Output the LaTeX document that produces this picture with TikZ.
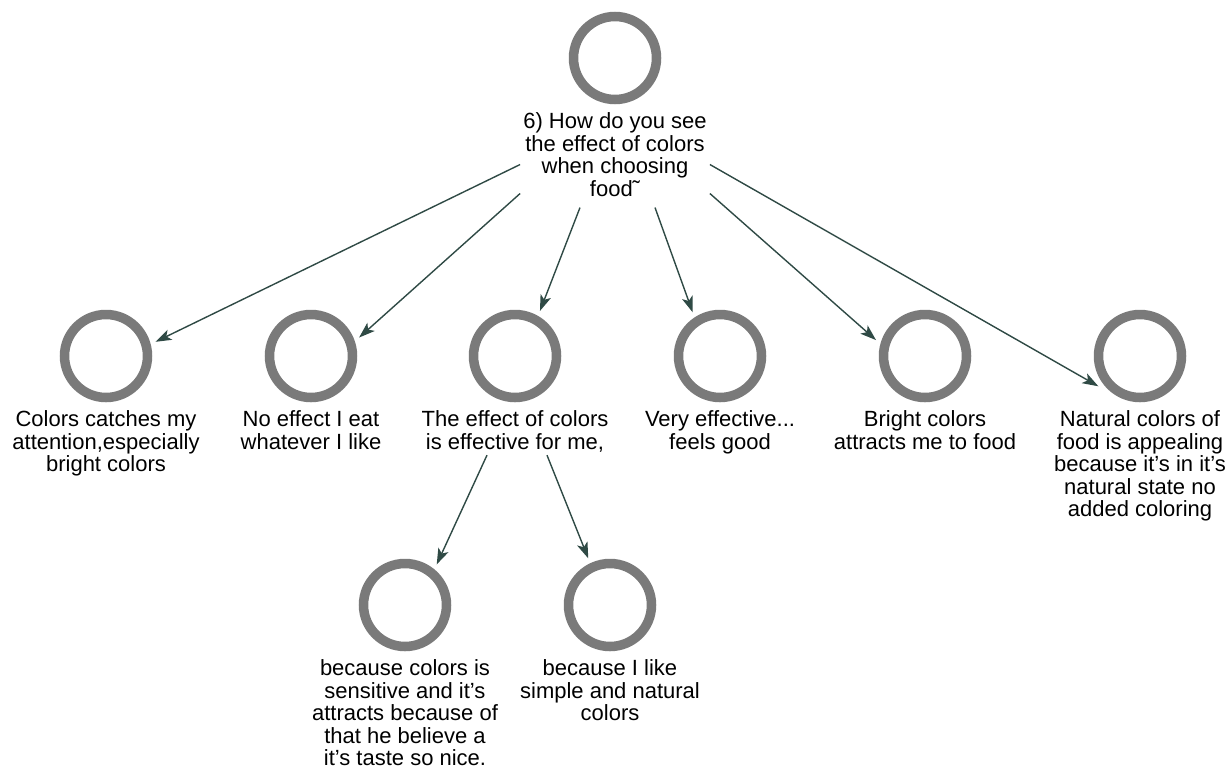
\documentclass[tikz,border=0pt]{standalone}
\usepackage{fontspec}
\setmainfont{Liberation Sans}
\usetikzlibrary{positioning,arrows.meta}
\definecolor{ringgray}{HTML}{7A7A7A}
\definecolor{linkgreen}{HTML}{2F4A45}
\begin{document}
\begin{tikzpicture}[x=1pt,y=-1pt,
  ring/.style={circle,draw=ringgray,line width=9.5pt,minimum size=83pt,inner sep=0pt,outer sep=10pt},
  lbl/.style={align=center,inner sep=3pt,font=\fontsize{22}{22.5}\selectfont},
  link/.style={draw=linkgreen,line width=1.4pt,-{Stealth[length=16pt,width=11pt,inset=4pt]}}]
\useasboundingbox (0,0) rectangle (1231,774);
\node[ring] (r) at (615,58) {};
\node[lbl,below=0pt of r] (q) {6) How do you see\\the effect of colors\\when choosing\\food\char"02DC};
\node[ring] (c1) at (106,356) {};
\node[ring] (c2) at (311,356) {};
\node[ring] (c3) at (515,356) {};
\node[ring] (c4) at (720,356) {};
\node[ring] (c5) at (925,356) {};
\node[ring] (c6) at (1140,356) {};
\node[lbl,below=0pt of c1] (l1) {Colors catches my\\attention,especially\\bright colors};
\node[lbl,below=0pt of c2] (l2) {No effect I eat\\whatever I like};
\node[lbl,below=0pt of c3] (l3) {The effect of colors\\is effective for me,};
\node[lbl,below=0pt of c4] (l4) {Very effective...\\feels good};
\node[lbl,below=0pt of c5] (l5) {Bright colors\\attracts me to food};
\node[lbl,below=0pt of c6] (l6) {Natural colors of\\food is appealing\\because it's in it's\\natural state no\\added coloring};
\node[ring] (b1) at (405,605) {};
\node[ring] (b2) at (610,605) {};
\node[lbl,below=0pt of b1] (m1) {because colors is\\sensitive and it's\\attracts because of\\that he believe a\\it's taste so nice.};
\node[lbl,below=0pt of b2] (m2) {because I like\\simple and natural\\colors};
% question to answers
\draw[link] ([yshift=-10pt]q.west) -- (c1.16);
\draw[link] ([yshift=-39pt]q.west) -- (c2.21);
\draw[link] ([xshift=-35pt,yshift=-8pt]q.south) -- (c3.61);
\draw[link] ([xshift=40pt,yshift=-8pt]q.south) -- (c4.122);
\draw[link] ([yshift=-39pt]q.east) -- (c5.162);
\draw[link] ([yshift=-10pt]q.east) -- (c6.216);
% follow-ups
\draw[link] ([xshift=-28pt]l3.south) -- (b1.52);
\draw[link] ([xshift=32pt]l3.south) -- (b2.115);
\end{tikzpicture}
\end{document}
